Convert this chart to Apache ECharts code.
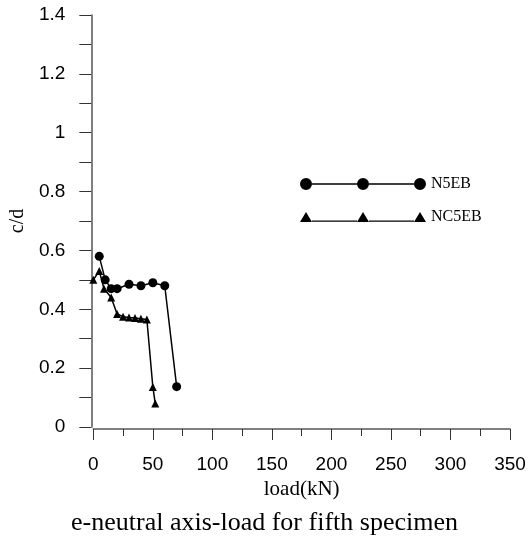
<!DOCTYPE html>
<html>
<head>
<meta charset="utf-8">
<script src="https://cdn.jsdelivr.net/npm/echarts@6/dist/echarts.min.js"></script>
<style>
html,body{margin:0;padding:0;background:#fff;}
#chart{width:529px;height:536px;}
</style>
</head>
<body>
<div id="chart"></div>
<script>
// ---- data ----
var seriesNames = ['N5EB', 'NC5EB'];
var loadN5EB = [5, 10, 15, 20, 30, 40, 50, 60, 70];
var cdN5EB = [0.58, 0.50, 0.47, 0.47, 0.485, 0.48, 0.49, 0.48, 0.137];
var loadNC5EB = [0, 5, 9, 15, 20, 25, 30, 35, 40, 45, 50, 52];
var cdNC5EB = [0.50, 0.53, 0.47, 0.44, 0.384, 0.375, 0.372, 0.37, 0.368, 0.365, 0.136, 0.08];
var xTicks = [0, 50, 100, 150, 200, 250, 300, 350];
var yTicks = [0, 0.2, 0.4, 0.6, 0.8, 1, 1.2, 1.4];
var titleText = 'e-neutral axis-load for fifth specimen';
var xName = 'load(kN)';
var yName = 'c/d';

function pairs(xs, ys) { return xs.map(function (x, i) { return [x, ys[i]]; }); }

var circleIcon = 'path://M0,6 A6,6 0 1,0 12,6 A6,6 0 1,0 0,6 Z M12,5.3 L57,5.3 L57,6.7 L12,6.7 Z M57,6 A6,6 0 1,0 69,6 A6,6 0 1,0 57,6 Z M69,5.3 L114,5.3 L114,6.7 L69,6.7 Z M114,6 A6,6 0 1,0 126,6 A6,6 0 1,0 114,6 Z';
var triIcon = 'path://M0,12 L6,2 L12,12 Z M12,10.6 L57,10.6 L57,11.8 L12,11.8 Z M57,12 L63,2 L69,12 Z M69,10.6 L114,10.6 L114,11.8 L69,11.8 Z M114,12 L120,2 L126,12 Z';

var serif = '"Liberation Serif", "Times New Roman", serif';
var sans = '"Liberation Sans", Arial, sans-serif';

var chart = echarts.init(document.getElementById('chart'), null, {renderer: 'canvas'});
chart.setOption({
  animation: false,
  backgroundColor: '#fff',
  title: {
    text: titleText, left: 'center', top: 505,
    textStyle: {fontFamily: serif, fontSize: 26, fontWeight: 'normal', color: '#000'}
  },
  legend: {
    orient: 'vertical', left: 295, top: 171,
    itemWidth: 126, itemHeight: 12, itemGap: 17,
    textStyle: {fontFamily: serif, fontSize: 16, color: '#000'},
    data: [
      {name: seriesNames[0], icon: circleIcon},
      {name: seriesNames[1], icon: triIcon}
    ]
  },
  grid: {left: 91, right: 19, top: 15, bottom: 109, containLabel: false},
  xAxis: {
    type: 'value', min: xTicks[0], max: xTicks[xTicks.length - 1], interval: 50,
    offset: 2,
    name: xName, nameLocation: 'middle', nameGap: 49,
    nameTextStyle: {fontFamily: serif, fontSize: 21, color: '#000'},
    axisLine: {show: true, onZero: false, lineStyle: {color: '#555', width: 1.5}},
    axisTick: {show: true, length: 11, lineStyle: {color: '#333', width: 1}},
    minorTick: {show: true, splitNumber: 2, length: 7, lineStyle: {color: '#333', width: 1}},
    axisLabel: {margin: 26, fontFamily: sans, fontSize: 19, color: '#000'},
    splitLine: {show: false}
  },
  yAxis: {
    type: 'value', min: yTicks[0], max: yTicks[yTicks.length - 1], interval: 0.2,
    offset: 2,
    name: yName, nameLocation: 'middle', nameGap: 59, nameRotate: 90,
    nameTextStyle: {fontFamily: serif, fontSize: 20, color: '#000'},
    axisLine: {show: true, onZero: false, lineStyle: {color: '#555', width: 1.5}},
    axisTick: {show: true, length: 12, lineStyle: {color: '#333', width: 1}},
    minorTick: {show: true, splitNumber: 2, length: 12, lineStyle: {color: '#333', width: 1}},
    axisLabel: {margin: 26, fontFamily: sans, fontSize: 19, color: '#000'},
    splitLine: {show: false}
  },
  series: [
    {
      name: seriesNames[0], type: 'line', data: pairs(loadN5EB, cdN5EB),
      symbol: 'circle', symbolSize: 9, color: '#000',
      lineStyle: {color: '#000', width: 1.5}, itemStyle: {color: '#000'}
    },
    {
      name: seriesNames[1], type: 'line', data: pairs(loadNC5EB, cdNC5EB),
      symbol: 'triangle', symbolSize: 8, color: '#000',
      lineStyle: {color: '#000', width: 1.5}, itemStyle: {color: '#000'}
    }
  ]
});
</script>
</body>
</html>
